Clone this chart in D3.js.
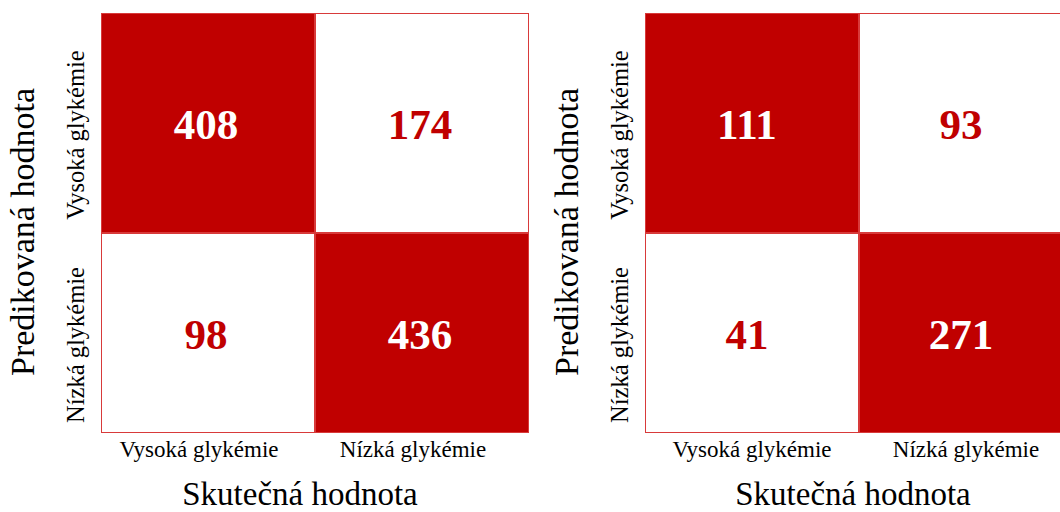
<!DOCTYPE html>
<html>
<head>
<meta charset="utf-8">
<script src="https://cdn.jsdelivr.net/npm/d3@7"></script>
<style>
  html, body { margin: 0; padding: 0; background: #fff; overflow: hidden; }
  svg { display: block; }
</style>
</head>
<body>
<svg id="chart" width="1060" height="512"></svg>
<script>
// ---- data ----
const categories = ["Vysoká glykémie", "Nízká glykémie"];
// rows = predicted, columns = actual
const matrixLeft  = [[408, 174], [98, 436]];
const matrixRight = [[111, 93], [41, 271]];
const xTitle = "Skutečná hodnota";
const yTitle = "Predikovaná hodnota";

// ---- styling / layout ----
const RED = "#c00000";
const FONT = "'Times New Roman', 'Liberation Serif', Tinos, serif";
const svg = d3.select("#chart").style("font-family", FONT);

const panels = [
  { data: matrixLeft,  x0: 101, xTitleDx: -15, xTickDx: -9, numDx: -2 },
  { data: matrixRight, x0: 645, xTitleDx: -6,  xTickDx: 0,  numDx: -5 }
];
const W = 428;
const rowEdges = [13, 233, 433]; // top row is slightly taller in the original

panels.forEach(p => {
  const g = svg.append("g").style("font-family", FONT);
  const x = d3.scaleBand().domain(categories).range([p.x0, p.x0 + W]);
  const yTop = d3.scaleOrdinal().domain(categories).range(rowEdges.slice(0, 2));
  const yBot = d3.scaleOrdinal().domain(categories).range(rowEdges.slice(1));
  const yMid = d => (yTop(d) + yBot(d)) / 2;

  const cells = [];
  p.data.forEach((row, ri) => row.forEach((v, ci) => {
    cells.push({ pred: categories[ri], act: categories[ci], v, diag: ri === ci });
  }));

  g.selectAll("rect.cell").data(cells).join("rect")
    .attr("class", "cell")
    .attr("x", d => x(d.act) + 0.5)
    .attr("y", d => yTop(d.pred) + 0.5)
    .attr("width", x.bandwidth() - 1)
    .attr("height", d => yBot(d.pred) - yTop(d.pred) - 1)
    .attr("fill", d => d.diag ? RED : "#ffffff")
    .attr("stroke", "#d83a3a")
    .attr("stroke-width", 1);

  g.selectAll("text.num").data(cells).join("text")
    .attr("class", "num")
    .attr("x", d => x(d.act) + x.bandwidth() / 2 + p.numDx)
    .attr("y", d => yMid(d.pred) + 16)
    .attr("text-anchor", "middle")
    .attr("font-family", FONT)
    .attr("font-weight", "bold")
    .attr("font-size", 43)
    .attr("fill", d => d.diag ? "#ffffff" : RED)
    .text(d => d.v);

  // x tick labels
  g.selectAll("text.xt").data(categories).join("text")
    .attr("class", "xt")
    .attr("x", d => x(d) + x.bandwidth() / 2 + p.xTickDx)
    .attr("y", 457)
    .attr("text-anchor", "middle")
    .attr("font-family", FONT)
    .attr("font-size", 23)
    .attr("fill", "#000")
    .text(d => d);

  // y tick labels (rotated)
  g.selectAll("text.yt").data(categories).join("text")
    .attr("class", "yt")
    .attr("transform", d => `translate(${p.x0 - 17},${yMid(d) + 12}) rotate(-90)`)
    .attr("text-anchor", "middle")
    .attr("font-family", FONT)
    .attr("font-size", 24.5)
    .attr("fill", "#000")
    .text(d => d);

  // axis titles
  g.append("text")
    .attr("x", p.x0 + W / 2 + p.xTitleDx)
    .attr("y", 505)
    .attr("text-anchor", "middle")
    .attr("font-family", FONT)
    .attr("font-size", 33)
    .attr("fill", "#000")
    .text(xTitle);

  g.append("text")
    .attr("transform", `translate(${p.x0 - 67},${(rowEdges[0] + rowEdges[2]) / 2 + 9}) rotate(-90)`)
    .attr("text-anchor", "middle")
    .attr("font-family", FONT)
    .attr("font-size", 34)
    .attr("fill", "#000")
    .text(yTitle);
});
</script>
</body>
</html>
